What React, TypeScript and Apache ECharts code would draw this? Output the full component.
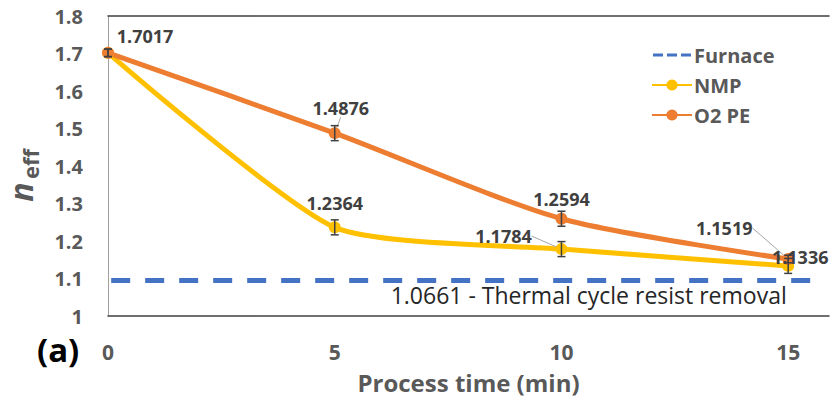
import React, { useEffect, useRef } from "react";
import * as echarts from "echarts";

const times = [0, 5, 10, 15];
const nmp = [1.7017, 1.2364, 1.1784, 1.1336];
const o2pe = [1.7017, 1.4876, 1.2594, 1.1519];
const nmpErr = [0.01, 0.02, 0.02, 0.02];
const o2peErr = [0.01, 0.02, 0.02, 0.01];
const nmpLabeled = [false, true, true, true];
const o2peLabeled = [true, true, true, true];
const furnaceX = [0.07, 10.6, 15.65];
const furnaceValue = 1.095;
const furnaceText = "1.0661 - Thermal cycle resist removal";
const seriesNames = ["Furnace", "NMP", "O2 PE"];

const FONT = "'Open Sans', 'Noto Sans', sans-serif";
const nmpShift = [[0, 0], [0, -4], [-58, 7], [12, 11]];
const o2Shift = [[37, 3], [6, -5], [0, 0], [-64, -11]];
const o2Guide = [false, true, false, true];
const nmpGuide = [false, false, true, false];

function errorBars(vals: number[], errs: number[]) {
  return times.map((t, i) => [t, vals[i] - errs[i], vals[i] + errs[i]]);
}

const renderErr = (params: any, api: any) => {
  const x = api.value(0);
  const lo = api.coord([x, api.value(1)]);
  const hi = api.coord([x, api.value(2)]);
  const w = 4;
  const st = { stroke: "#404040", lineWidth: 1.5 };
  return {
    type: "group",
    children: [
      { type: "line", shape: { x1: lo[0], y1: lo[1], x2: hi[0], y2: hi[1] }, style: st },
      { type: "line", shape: { x1: lo[0] - w, y1: lo[1], x2: lo[0] + w, y2: lo[1] }, style: st },
      { type: "line", shape: { x1: hi[0] - w, y1: hi[1], x2: hi[0] + w, y2: hi[1] }, style: st },
    ],
  };
};

const dataLabel = {
  show: true,
  position: "top",
  distance: 5,
  fontFamily: FONT,
  fontWeight: "bold",
  fontSize: 18,
  color: "#404040",
  formatter: (p: any) => p.value[1].toFixed(4),
};

function lineData(vals: number[], labeled: boolean[], guide: boolean[]) {
  return times.map((t, i) => ({
    value: [t, vals[i]],
    label: labeled[i] ? dataLabel : { show: false },
    labelLine: { show: guide[i], lineStyle: { color: "#a6a6a6", width: 1 } },
  }));
}

const dashIcon =
  "path://M0,5.5h10v3h-10z M14,5.5h10v3h-10z M28,5.5h10v3h-10z M0,0h0.01v0.01h-0.01z M0,14h0.01v0.01h-0.01z";

export default function App() {
  const ref = useRef<HTMLDivElement>(null);
  useEffect(() => {
    if (!ref.current) return;
    const chart = echarts.init(ref.current, null, { renderer: "svg" });
    const option: any = {
      animation: false,
      backgroundColor: "#ffffff",
      grid: { left: 108, right: 2, top: 16, bottom: 88 },
      legend: {
        orient: "vertical",
        left: 646,
        top: 40,
        itemWidth: 40,
        itemHeight: 14,
        itemGap: 10,
        data: [
          { name: seriesNames[0], icon: dashIcon, itemStyle: { color: "#4472C4" } },
          seriesNames[1],
          seriesNames[2],
        ],
        textStyle: { fontFamily: FONT, fontWeight: "bold", fontSize: 20, color: "#595959", padding: [0, 0, 0, -3] },
      },
      xAxis: [
        {
          type: "value",
          min: 0,
          max: 15.9,
          interval: 5,
          position: "bottom",
          splitLine: { show: false },
          axisTick: { show: false },
          axisLine: { show: true, onZero: false, lineStyle: { color: "#404040", width: 1.5 } },
          axisLabel: {
            margin: 25,
            fontFamily: FONT,
            fontWeight: "bold",
            fontSize: 21,
            color: "#595959",
            formatter: (v: number) => (v % 5 === 0 ? String(v) : ""),
          },
          name: "Process time (min)",
          nameLocation: "middle",
          nameGap: 54,
          nameTextStyle: { fontFamily: FONT, fontWeight: "bold", fontSize: 24, color: "#595959" },
        },
        {
          type: "value",
          min: 0,
          max: 15.9,
          position: "top",
          splitLine: { show: false },
          axisTick: { show: false },
          axisLabel: { show: false },
          axisLine: { show: true, onZero: false, lineStyle: { color: "#404040", width: 1.5 } },
        },
      ],
      yAxis: {
        type: "value",
        min: 1,
        max: 1.8,
        interval: 0.1,
        splitLine: { show: false },
        axisTick: { show: false },
        axisLine: { show: true, lineStyle: { color: "#a0a0a0", width: 1 } },
        axisLabel: {
          margin: 25,
          fontFamily: FONT,
          fontWeight: "bold",
          fontSize: 20,
          color: "#595959",
          formatter: (v: number) => (Math.abs(v - 1) < 1e-9 ? "1" : v.toFixed(1)),
        },
      },
      graphic: [
        {
          type: "text",
          left: 37,
          top: 333,
          style: { text: "(a)", fontFamily: FONT, fontWeight: "bold", fontSize: 33, fill: "#000" },
        },
        {
          type: "text",
          x: 35,
          y: 192,
          rotation: Math.PI / 2,
          style: {
            text: "n",
            fontFamily: FONT,
            fontStyle: "italic",
            fontWeight: "bold",
            fontSize: 32,
            lineHeight: 30,
            fill: "#595959",
            textAlign: "center",
            textVerticalAlign: "bottom",
          },
        },
        {
          type: "text",
          x: 41,
          y: 164,
          rotation: Math.PI / 2,
          style: {
            text: "eff",
            fontFamily: FONT,
            fontWeight: "bold",
            fontSize: 22,
            lineHeight: 22,
            fill: "#595959",
            textAlign: "center",
            textVerticalAlign: "bottom",
          },
        },
      ],
      series: [
        {
          name: "Furnace",
          type: "line",
          symbol: "circle",
          symbolSize: 1,
          showSymbol: true,
          color: "#4472C4",
          itemStyle: { color: "rgba(0,0,0,0)" },
          lineStyle: { color: "#4472C4", width: 5, type: [19, 15] },
          data: furnaceX.map((x, i) => ({
            value: [x, furnaceValue],
            label:
              i === 1
                ? {
                    show: true,
                    position: "bottom",
                    distance: 3,
                    formatter: furnaceText,
                    fontFamily: FONT,
                    fontSize: 23,
                    color: "#262626",
                  }
                : { show: false },
          })),
          z: 2,
        },
        {
          name: "NMP",
          type: "line",
          smooth: 0.2,
          symbol: "circle",
          symbolSize: 12,
          color: "#FFC000",
          lineStyle: { color: "#FFC000", width: 5 },
          itemStyle: { color: "#FFC000" },
          data: lineData(nmp, nmpLabeled, nmpGuide),
          labelLayout: (p: any) => ({ dx: nmpShift[p.dataIndex][0], dy: nmpShift[p.dataIndex][1] }),
          z: 3,
        },
        {
          name: "O2 PE",
          type: "line",
          smooth: 0.25,
          symbol: "circle",
          symbolSize: 12,
          color: "#ED7D31",
          lineStyle: { color: "#ED7D31", width: 5 },
          itemStyle: { color: "#ED7D31" },
          data: lineData(o2pe, o2peLabeled, o2Guide),
          labelLayout: (p: any) => ({ dx: o2Shift[p.dataIndex][0], dy: o2Shift[p.dataIndex][1] }),
          z: 3,
        },
        {
          type: "custom",
          renderItem: renderErr,
          encode: { x: 0, y: [1, 2] },
          data: errorBars(nmp, nmpErr),
          z: 4,
        },
        {
          type: "custom",
          renderItem: renderErr,
          encode: { x: 0, y: [1, 2] },
          data: errorBars(o2pe, o2peErr),
          z: 4,
        },
      ],
    };
    chart.setOption(option);
    return () => chart.dispose();
  }, []);
  return (
    <div
      ref={ref}
      style={{ position: "fixed", left: 0, top: 0, width: 832, height: 404, background: "#fff" }}
    />
  );
}
